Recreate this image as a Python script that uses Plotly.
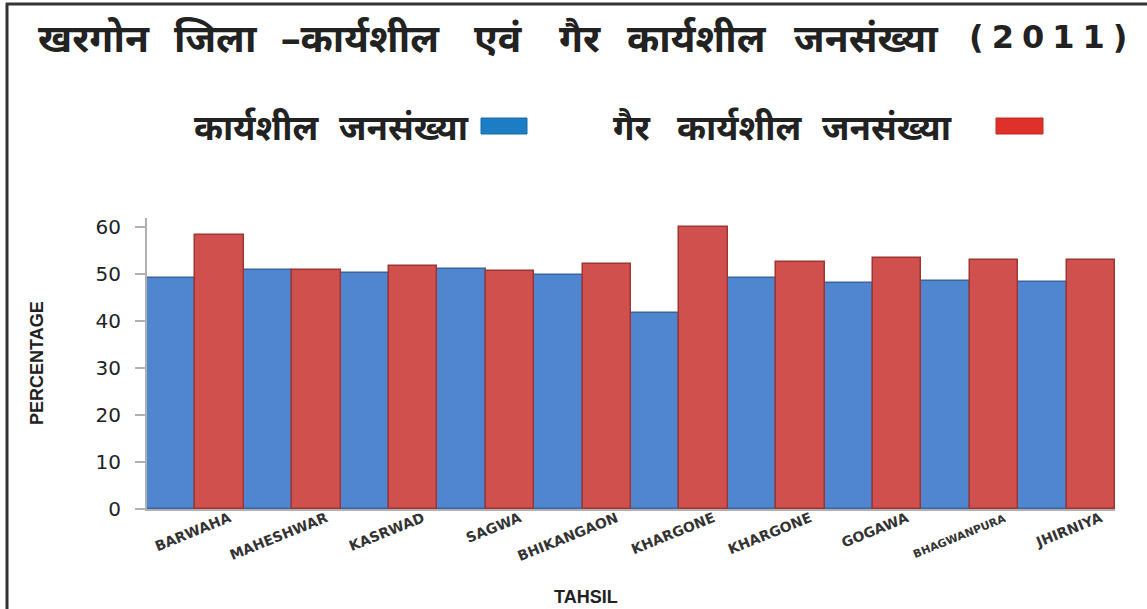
import plotly.graph_objects as go

# data
tahsil = ["BARWAHA", "MAHESHWAR", "KASRWAD", "SAGWA", "BHIKANGAON",
          "KHARGONE", "KHARGONE", "GOGAWA", "BHAGWANPURA", "JHIRNIYA"]
working = [49.3, 51.0, 50.3, 51.2, 49.9, 41.8, 49.3, 48.2, 48.6, 48.4]
non_working = [58.4, 51.0, 51.8, 50.7, 52.1, 60.0, 52.7, 53.5, 53.1, 53.1]
y_ticks = [0, 10, 20, 30, 40, 50, 60]

title_words = ["खरगोन", "जिला", "–कार्यशील", "एवं", "गैर", "कार्यशील", "जनसंख्या"]
title_year = "(2011)"
name_working = "कार्यशील जनसंख्या"
name_non_working = "गैर कार्यशील जनसंख्या"

W, H = 1147, 609
L, R, T, B = 147, 32, 218, 100
HINDI = "Noto Sans, Noto Sans Devanagari, Lohit Devanagari, sans-serif"

# word centres (page px) — the original spreads its letters wide
title_x = [94, 216, 360, 498, 580, 697, 866]
legend_x = [256, 404, 632, 739, 887]


def px(x):
    # page pixel -> paper x
    return (x - L) / (W - L - R)


def py(y):
    # page pixel (from top) -> paper y
    return (H - B - y) / (H - T - B)


def label(text, x, y, size, family=HINDI, anchor="center", angle=0):
    fig.add_annotation(text=f"<b>{text}</b>", xref="paper", yref="paper",
                       x=px(x), y=py(y), xanchor=anchor, yanchor="middle",
                       textangle=angle, showarrow=False,
                       font=dict(size=size, family=family, color="#222"))


xs = list(range(len(tahsil)))
tick_text = [f"<b>{t}</b>" if len(t) < 11 else f'<b><span style="font-size:11px">{t}</span></b>'
             for t in tahsil]

fig = go.Figure()
fig.add_trace(go.Bar(x=xs, y=working, name=name_working,
                     marker=dict(color="#4f86cf", line=dict(color="#3a64a0", width=1.5)),
                     showlegend=False))
fig.add_trace(go.Bar(x=xs, y=non_working, name=name_non_working,
                     marker=dict(color="#d0504d", line=dict(color="#9e3532", width=1.5)),
                     showlegend=False))

fig.update_layout(
    width=W, height=H,
    margin=dict(l=L, r=R, t=T, b=B, autoexpand=False),
    paper_bgcolor="white", plot_bgcolor="white",
    barmode="group", bargap=0, bargroupgap=0,
    font=dict(family="Arial, Liberation Sans, sans-serif", color="#222"),
)

fig.update_xaxes(
    range=[-0.5, 9.5], tickmode="array", tickvals=xs, ticktext=tick_text,
    tickangle=-22, ticklabelshift=34, ticklabelstandoff=-6, automargin=False,
    tickfont=dict(size=14, family="DejaVu Sans, Verdana", color="#333"),
    showgrid=False, zeroline=False, ticks="",
    showline=True, linecolor="#b0b0b0", linewidth=2,
)
fig.update_yaxes(
    range=[0, 62], tickmode="array", tickvals=y_ticks, automargin=False,
    tickfont=dict(size=20, family="DejaVu Sans, Verdana", color="#222"),
    showgrid=False, zeroline=False,
    showline=True, linecolor="#b0b0b0", linewidth=2,
    ticks="outside", ticklen=10, tickcolor="#b0b0b0", tickwidth=2,
    ticklabelstandoff=10,
)

# axis titles
label("PERCENTAGE", 37, 363, 18, family="Liberation Sans, Arial", angle=-90)
label("TAHSIL", 586, 597, 18, family="Liberation Sans, Arial")

# title, word by word
for w, x in zip(title_words, title_x):
    label(w, x, 36, 39)
fig.add_annotation(text=f'<b><span style="letter-spacing:8px">{title_year}</span></b>',
                   xref="paper", yref="paper", x=px(1052), y=py(37),
                   xanchor="center", yanchor="middle", showarrow=False,
                   font=dict(size=32, family="DejaVu Sans, Verdana", color="#222"))

# legend drawn by hand: text first, swatch after
legend_words = name_working.split() + name_non_working.split()
for w, x in zip(legend_words, legend_x):
    label(w, x, 126, 35)
fig.add_shape(type="rect", xref="paper", yref="paper",
              x0=px(481), x1=px(527), y0=py(134), y1=py(118),
              fillcolor="#1c7cc4", line=dict(color="#166aa8", width=1))
fig.add_shape(type="rect", xref="paper", yref="paper",
              x0=px(996), x1=px(1043), y0=py(134), y1=py(118),
              fillcolor="#e0302a", line=dict(color="#c02a25", width=1))

# frame lines on the left and top of the picture
fig.add_shape(type="line", xref="paper", yref="paper",
              x0=px(7), x1=px(7), y0=py(3), y1=py(609),
              line=dict(color="#333", width=3))
fig.add_shape(type="line", xref="paper", yref="paper",
              x0=px(6), x1=px(1147), y0=py(4), y1=py(4),
              line=dict(color="#333", width=3))

fig.write_html("out.html", config={"displayModeBar": False},
               post_script="document.body.style.margin='0';")
